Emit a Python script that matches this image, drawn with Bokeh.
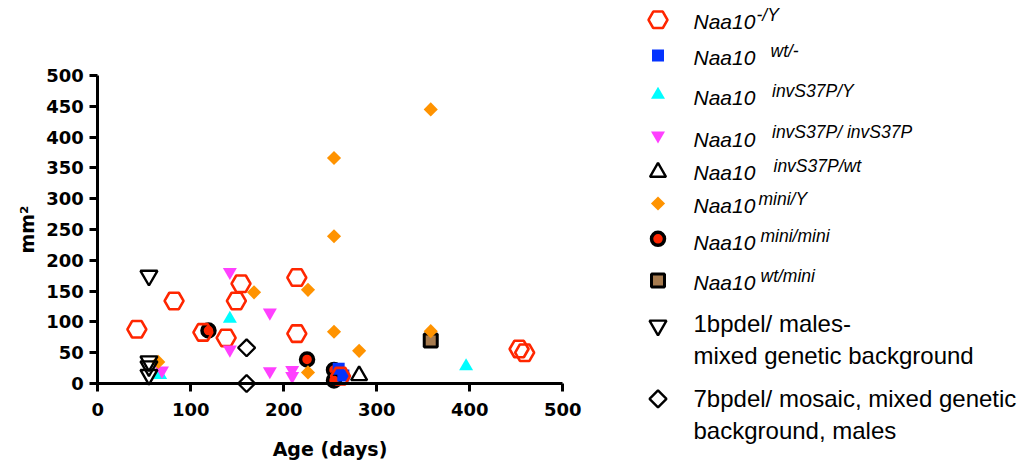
import numpy as np
from bokeh.plotting import figure
from bokeh.models import Range1d, FixedTicker, LinearAxis
from bokeh.embed import file_html
from bokeh.resources import INLINE
from bokeh.core.properties import value

# ---------------- data (age in days, area in mm2) ----------------
ko_age = [42, 82, 113, 138, 149, 154, 214, 214, 261, 453, 459]
ko_area = [88, 134, 83, 74, 134, 162, 172, 81, 12, 56, 50]
het_age = [259, 264]
het_area = [24, 13]
s37p_y_age = [67, 142, 396]
s37p_y_area = [14, 105, 28]
s37p_hom_age = [69, 142, 142, 185, 185, 209, 209]
s37p_hom_area = [21, 181, 55, 115, 20, 22, 12]
s37p_het_age = [281]
s37p_het_area = [13]
mini_y_age = [65, 168, 226, 226, 254, 254, 254, 281, 358, 358]
mini_y_area = [35, 148, 152, 18, 366, 239, 84, 53, 445, 85]
mini_mini_age = [119, 225, 254, 254]
mini_mini_area = [86, 39, 22, 5]
wt_mini_age = [358]
wt_mini_area = [70]
bp1_age = [55, 55, 55, 55]
bp1_area = [175, 36, 28, 14]
bp7_age = [160, 160]
bp7_area = [58, 0]

x_ticks = [0, 100, 200, 300, 400, 500]
y_ticks = [0, 50, 100, 150, 200, 250, 300, 350, 400, 450, 500]

legend_main = ["Naa10"] * 8
legend_sup = ["-/Y", "wt/-", "invS37P/Y", "invS37P/ invS37P", "invS37P/wt",
              "mini/Y", "mini/mini", "wt/mini"]
legend_plain = ["1bpdel/ males-", "mixed genetic background",
                "7bpdel/ mosaic, mixed genetic", "background, males"]

# ---------------- styles ----------------
RED = "#ff2600"
styles = [
    dict(marker="hex", size=19, fill_color=None, line_color=RED, line_width=2.6),
    dict(marker="square", size=12, fill_color="#0433ff", line_color=None),
    dict(marker="triangle", size=14, fill_color="#00fdff", line_color=None),
    dict(marker="inverted_triangle", size=14, fill_color="#ff40ff", line_color=None),
    dict(marker="triangle", size=16, fill_color=None, line_color="black", line_width=2.4),
    dict(marker="square", size=10, angle=np.pi / 4, fill_color="#ff9300", line_color=None),
    dict(marker="circle", size=13, fill_color=RED, line_color="black", line_width=3.5),
    dict(marker="square", size=13, fill_color="#a67b4f", line_color="black", line_width=3),
    dict(marker="inverted_triangle", size=17, fill_color=None, line_color="black", line_width=2.4),
    dict(marker="square", size=12, angle=np.pi / 4, fill_color=None, line_color="black", line_width=2.4),
]
series = [
    (ko_age, ko_area), (het_age, het_area), (s37p_y_age, s37p_y_area),
    (s37p_hom_age, s37p_hom_area), (s37p_het_age, s37p_het_area),
    (mini_y_age, mini_y_area), (mini_mini_age, mini_mini_area),
    (wt_mini_age, wt_mini_area), (bp1_age, bp1_area), (bp7_age, bp7_area),
]
draw_order = [6, 7, 1, 0, 2, 3, 4, 5, 8, 9]

# ---------------- geometry (screen layout) ----------------
W, H = 1028, 464
LEFT = 97.3           # screen x of age 0
X_PX = 465.0 / 500    # px per day
Y0 = 383.0            # screen y of area 0
Y_PX = 308.0 / 500    # px per mm2

p = figure(width=W, height=H,
           x_range=Range1d(-LEFT / X_PX, (W - LEFT) / X_PX),
           y_range=Range1d(-(H - Y0) / Y_PX, Y0 / Y_PX),
           output_backend="svg", toolbar_location=None,
           x_axis_location=None, y_axis_location=None, min_border=0)
p.outline_line_color = None
p.grid.visible = False
p.background_fill_color = "white"
p.extra_x_ranges = {"lx": Range1d(0, W)}
p.extra_y_ranges = {"ly": Range1d(H, 0)}

for i in draw_order:
    xs, ys = series[i]
    p.scatter(xs, ys, **styles[i])

xax = LinearAxis(fixed_location=0)
yax = LinearAxis(fixed_location=0)
p.add_layout(xax, "below")
p.add_layout(yax, "left")
for ax in (xax, yax):
    ax.bounds = (0, 500)
    ax.axis_line_width = 3
    ax.axis_line_color = "black"
    ax.major_tick_line_width = 3
    ax.major_tick_line_color = "black"
    ax.major_tick_out = 8
    ax.major_tick_in = 0
    ax.minor_tick_line_color = None
    ax.major_label_text_font = "DejaVu Sans"
    ax.major_label_text_font_style = "bold"
    ax.major_label_text_font_size = "18px"
    ax.major_label_text_color = "black"
    ax.axis_label_text_font = "DejaVu Sans"
    ax.axis_label_text_font_style = "bold"
    ax.axis_label_text_font_size = "19px"
    ax.axis_label_text_color = "black"
xax.ticker = FixedTicker(ticks=x_ticks)
yax.ticker = FixedTicker(ticks=y_ticks)
xax.axis_label = "Age (days)"
yax.axis_label = "mm²"
xax.major_label_standoff = 11
yax.major_label_standoff = 6
xax.axis_label_standoff = 19
yax.axis_label_standoff = 5

# ---------------- legend (screen coordinates) ----------------
mk_x = 657.5
mk_y = [19.3, 55, 94.3, 135, 171.7, 203, 238.3, 280, 325, 398.3]
for i, st in enumerate(styles):
    p.scatter([mk_x], [mk_y[i]], x_range_name="lx", y_range_name="ly", **st)

txt_x = 693
main_base = [21.3, 57, 97, 138.7, 172, 205.3, 242, 282]
sup_x = [756, 770, 771.5, 771.5, 773, 758, 760, 760]
sup_base = [b - 7 for b in main_base]
plain_base = [323, 354.5, 398, 429.5]

p.text(x=[txt_x] * len(legend_main), y=main_base, text=legend_main,
       x_range_name="lx", y_range_name="ly",
       text_font=value("Liberation Sans"), text_font_size="21px",
       text_font_style="italic", text_baseline="alphabetic", text_color="black")
p.text(x=sup_x, y=sup_base, text=legend_sup,
       x_range_name="lx", y_range_name="ly",
       text_font=value("Liberation Sans"), text_font_size="17.5px",
       text_font_style="italic", text_baseline="alphabetic", text_color="black")
p.text(x=[txt_x] * len(legend_plain), y=plain_base, text=legend_plain,
       x_range_name="lx", y_range_name="ly",
       text_font=value("Liberation Sans"), text_font_size="24px",
       text_baseline="alphabetic", text_color="black")

open("out.html", "w").write(file_html(p, INLINE))
